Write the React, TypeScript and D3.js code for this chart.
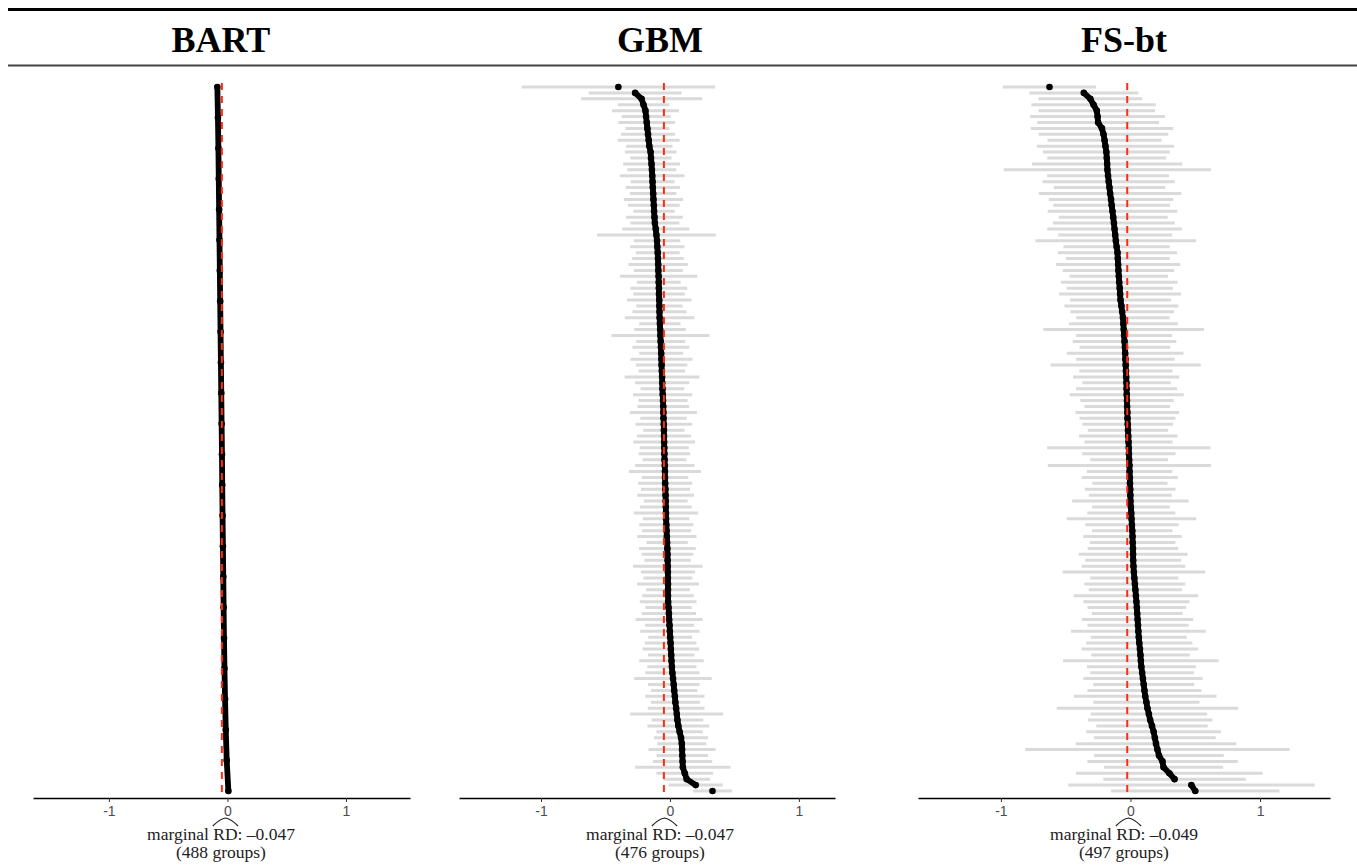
import React, { useEffect, useRef } from "react";
import * as d3 from "d3";

// ---------- data ----------
const PANEL_TITLES = ["BART", "GBM", "FS-bt"];
const GROUP_COUNTS = [488, 476, 497];
const MARGINAL_RD = [-0.047, -0.047, -0.049];
const REF_LINES = [-0.047, -0.047, -0.025];
const X_DOMAINS: [number, number][] = [
  [-1.64, 1.54],
  [-1.636, 1.28],
  [-1.64, 1.54],
];
const TICK_VALUES = [-1, 0, 1];

// sorted group-level estimates (sampled rows, top to bottom)
const BART_EST = [
  -0.085, -0.08, -0.076, -0.073, -0.07, -0.067, -0.064, -0.061, -0.058, -0.055,
  -0.052, -0.049, -0.046, -0.044, -0.041, -0.038, -0.035, -0.032, -0.029, -0.025,
  -0.02, -0.014, -0.006, 0.008,
];
const BART_HW = [
  0.012, 0.01, 0.011, 0.009, 0.012, 0.01, 0.011, 0.009, 0.01, 0.012,
  0.011, 0.009, 0.01, 0.012, 0.011, 0.01, 0.009, 0.011, 0.012, 0.01,
  0.011, 0.009, 0.012, 0.01,
];

const GBM_EST = [
  -0.4, -0.27, -0.22, -0.205, -0.19, -0.185, -0.18, -0.175, -0.17, -0.165,
  -0.16, -0.15, -0.147, -0.143, -0.14, -0.137, -0.135, -0.133, -0.13, -0.128,
  -0.125, -0.123, -0.12, -0.117, -0.11, -0.105, -0.1, -0.098, -0.095, -0.093,
  -0.091, -0.09, -0.088, -0.087, -0.086, -0.085, -0.083, -0.082, -0.081, -0.08,
  -0.078, -0.076, -0.074, -0.072, -0.07, -0.068, -0.066, -0.065, -0.063, -0.061,
  -0.06, -0.058, -0.056, -0.054, -0.052, -0.051, -0.05, -0.048, -0.047, -0.046,
  -0.045, -0.044, -0.043, -0.042, -0.04, -0.039, -0.038, -0.037, -0.035, -0.034,
  -0.033, -0.032, -0.031, -0.03, -0.028, -0.026, -0.024, -0.022, -0.02, -0.019,
  -0.018, -0.017, -0.016, -0.016, -0.015, -0.015, -0.015, -0.014, -0.011, -0.008,
  -0.006, -0.003, -0.001, 0.002, 0.005, 0.007, 0.01, 0.012, 0.015, 0.019,
  0.024, 0.029, 0.033, 0.038, 0.042, 0.048, 0.053, 0.058, 0.065, 0.075,
  0.086, 0.092, 0.094, 0.096, 0.098, 0.1, 0.115, 0.13, 0.2, 0.33,
];
const GBM_HW = [
  0.75, 0.36, 0.47, 0.2, 0.26, 0.19, 0.22, 0.17, 0.21, 0.24,
  0.18, 0.2, 0.16, 0.22, 0.19, 0.25, 0.17, 0.21, 0.18, 0.23,
  0.2, 0.16, 0.22, 0.19, 0.26, 0.46, 0.18, 0.21, 0.17, 0.2,
  0.23, 0.19, 0.3, 0.17, 0.22, 0.2, 0.25, 0.18, 0.21, 0.27,
  0.16, 0.2, 0.38, 0.19, 0.22, 0.17, 0.24, 0.2, 0.18, 0.29,
  0.21, 0.17, 0.23, 0.19, 0.2, 0.26, 0.18, 0.22, 0.16, 0.21,
  0.24, 0.19, 0.2, 0.17, 0.23, 0.28, 0.18, 0.21, 0.19, 0.22,
  0.17, 0.2, 0.25, 0.18, 0.21, 0.19, 0.23, 0.16, 0.22, 0.2,
  0.18, 0.27, 0.21, 0.19, 0.24, 0.17, 0.2, 0.22, 0.18, 0.21,
  0.26, 0.19, 0.23, 0.17, 0.2, 0.22, 0.18, 0.25, 0.19, 0.21,
  0.3, 0.2, 0.18, 0.23, 0.19, 0.22, 0.36, 0.2, 0.24, 0.18,
  0.21, 0.19, 0.26, 0.2, 0.23, 0.37, 0.22, 0.18, 0.21, 0.15,
];

const FS_EST = [
  -0.625, -0.36, -0.31, -0.285, -0.26, -0.254, -0.25, -0.22, -0.208, -0.2,
  -0.193, -0.186, -0.183, -0.18, -0.178, -0.173, -0.168, -0.162, -0.157, -0.15,
  -0.145, -0.139, -0.133, -0.128, -0.123, -0.118, -0.113, -0.107, -0.1, -0.098,
  -0.095, -0.093, -0.09, -0.087, -0.083, -0.08, -0.077, -0.07, -0.064, -0.058,
  -0.055, -0.052, -0.049, -0.046, -0.043, -0.041, -0.039, -0.037, -0.035, -0.033,
  -0.031, -0.03, -0.029, -0.027, -0.026, -0.024, -0.023, -0.021, -0.019, -0.017,
  -0.015, -0.013, -0.012, -0.01, -0.008, -0.007, -0.005, -0.004, -0.002, -0.001,
  0.0, 0.003, 0.006, 0.008, 0.011, 0.014, 0.016, 0.017, 0.019, 0.02,
  0.021, 0.023, 0.026, 0.03, 0.034, 0.038, 0.042, 0.046, 0.049, 0.052,
  0.055, 0.058, 0.061, 0.064, 0.068, 0.073, 0.077, 0.08, 0.084, 0.09,
  0.096, 0.102, 0.108, 0.114, 0.123, 0.131, 0.142, 0.152, 0.166, 0.179,
  0.188, 0.197, 0.208, 0.22, 0.247, 0.255, 0.3, 0.34, 0.47, 0.5,
];
const FS_HW = [
  0.36, 0.42, 0.4, 0.48, 0.45, 0.52, 0.47, 0.55, 0.5, 0.44,
  0.53, 0.49, 0.46, 0.58, 0.8, 0.47, 0.51, 0.43, 0.55, 0.48,
  0.45, 0.5, 0.42, 0.47, 0.52, 0.44, 0.62, 0.41, 0.46, 0.4,
  0.48, 0.43, 0.38, 0.45, 0.41, 0.47, 0.39, 0.44, 0.4, 0.36,
  0.42, 0.62, 0.37, 0.4, 0.35, 0.45, 0.38, 0.58, 0.36, 0.41,
  0.34, 0.39, 0.44, 0.36, 0.33, 0.4, 0.37, 0.35, 0.31, 0.38,
  0.34, 0.63, 0.36, 0.3, 0.63, 0.33, 0.37, 0.29, 0.35, 0.32,
  0.45, 0.3, 0.34, 0.5, 0.36, 0.31, 0.38, 0.33, 0.35, 0.42,
  0.37, 0.4, 0.55, 0.34, 0.39, 0.36, 0.48, 0.41, 0.38, 0.35,
  0.43, 0.39, 0.52, 0.37, 0.41, 0.45, 0.38, 0.6, 0.42, 0.4,
  0.46, 0.39, 0.44, 0.55, 0.41, 0.7, 0.45, 0.48, 0.43, 0.52,
  0.47, 0.62, 1.02, 0.5, 0.58, 0.46, 0.72, 0.55, 0.95, 0.65,
];

const ESTIMATES = [BART_EST, GBM_EST, FS_EST];
const HALF_WIDTHS = [BART_HW, GBM_HW, FS_HW];

// ---------- layout ----------
const W = 1357;
const H = 867;
const PANEL_X: [number, number][] = [
  [33, 410],
  [459, 835],
  [918, 1330],
];
const LABEL_CX = [221, 660, 1124];
const Y_TOP = 87;
const Y_BOT = 791;
const AXIS_Y = 798;
const CAP_FONT = 17.5;

const fmtRD = (v: number) => (v < 0 ? "\u2013" : "") + Math.abs(v).toFixed(3);

export default function App() {
  const ref = useRef<SVGSVGElement>(null);

  useEffect(() => {
    const svg = d3.select(ref.current);
    svg.selectAll("*").remove();

    svg.append("rect").attr("width", W).attr("height", H).attr("fill", "#fff");

    // header rules
    svg.append("line").attr("x1", 8).attr("x2", W).attr("y1", 9.5).attr("y2", 9.5)
      .attr("stroke", "#000").attr("stroke-width", 3);
    svg.append("line").attr("x1", 8).attr("x2", W).attr("y1", 65.5).attr("y2", 65.5)
      .attr("stroke", "#444").attr("stroke-width", 1.8);

    PANEL_TITLES.forEach((title, k) => {
      const est = ESTIMATES[k];
      const hw = HALF_WIDTHS[k];
      const x = d3.scaleLinear().domain(X_DOMAINS[k]).range(PANEL_X[k]);
      const y = d3.scalePoint<number>().domain(d3.range(est.length)).range([Y_TOP, Y_BOT]);
      const g = svg.append("g");

      // title
      svg.append("text")
        .attr("x", LABEL_CX[k]).attr("y", 52)
        .attr("text-anchor", "middle")
        .attr("font-family", "'Liberation Serif', 'Times New Roman', serif")
        .attr("font-weight", "bold").attr("font-size", 36).attr("fill", "#000")
        .text(title);

      // interval lines
      g.append("g").selectAll("line").data(est).join("line")
        .attr("x1", (d, i) => x(d - hw[i]))
        .attr("x2", (d, i) => x(d + hw[i]))
        .attr("y1", (_d, i) => y(i) as number)
        .attr("y2", (_d, i) => y(i) as number)
        .attr("stroke", "#dadada").attr("stroke-width", 3);

      // estimates: connected thick path (broken at big gaps) + dots
      const pts = est.map((d, i) => [x(d), y(i) as number] as [number, number]);
      const segs: [number, number][][] = [];
      let cur: [number, number][] = [];
      pts.forEach((p, i) => {
        if (i > 0 && Math.abs(p[0] - pts[i - 1][0]) > 10) {
          segs.push(cur);
          cur = [];
        }
        cur.push(p);
      });
      segs.push(cur);
      const line = d3.line<[number, number]>().x((p) => p[0]).y((p) => p[1]);
      segs.filter((s) => s.length > 1).forEach((s) => {
        g.append("path").attr("d", line(s) as string).attr("fill", "none")
          .attr("stroke", "#000").attr("stroke-width", 5.8)
          .attr("stroke-linecap", "round").attr("stroke-linejoin", "round");
      });
      g.append("g").selectAll("circle").data(pts).join("circle")
        .attr("cx", (p) => p[0]).attr("cy", (p) => p[1]).attr("r", 3.3).attr("fill", "#000");

      // reference dashed line
      g.append("line")
        .attr("x1", x(REF_LINES[k])).attr("x2", x(REF_LINES[k]))
        .attr("y1", Y_TOP - 4).attr("y2", AXIS_Y - 2)
        .attr("stroke", "#ff2a12").attr("stroke-width", 2)
        .attr("stroke-dasharray", "7,6");

      // axis
      const axis = d3.axisBottom(x).tickValues(TICK_VALUES).tickSizeInner(4).tickSizeOuter(0)
        .tickPadding(4)
        .tickFormat((v) => ((v as number) < 0 ? "-" + Math.abs(v as number) : String(v)));
      const ag = svg.append("g").attr("transform", `translate(0,${AXIS_Y})`).call(axis);
      ag.select(".domain").attr("stroke", "#000").attr("stroke-width", 1.6);
      ag.selectAll(".tick line").attr("stroke", "#333").attr("stroke-width", 1);
      ag.selectAll(".tick text")
        .attr("font-family", "'Liberation Sans', Arial, sans-serif")
        .attr("font-size", 14).attr("fill", "#4d4d4d");

      // caption
      const cap = svg.append("text")
        .attr("x", LABEL_CX[k]).attr("y", 840)
        .attr("text-anchor", "middle")
        .attr("font-family", "'Liberation Serif', 'Times New Roman', serif")
        .attr("font-size", CAP_FONT).attr("fill", "#222")
        .text(`marginal RD: ${fmtRD(MARGINAL_RD[k])}`);
      svg.append("text")
        .attr("x", LABEL_CX[k]).attr("y", 858)
        .attr("text-anchor", "middle")
        .attr("font-family", "'Liberation Serif', 'Times New Roman', serif")
        .attr("font-size", CAP_FONT).attr("fill", "#222")
        .text(`(${GROUP_COUNTS[k]} groups)`);

      // wide hat over "RD"
      const node = cap.node() as SVGTextElement;
      try {
        const x0 = node.getStartPositionOfChar(9).x;
        const x1 = node.getEndPositionOfChar(10).x;
        const mid = (x0 + x1) / 2;
        svg.append("path")
          .attr("d", `M${x0 - 0.5},826 Q${mid - 5},818.5 ${mid},818 Q${mid + 5},818.5 ${x1 + 0.5},826`)
          .attr("fill", "none").attr("stroke", "#222").attr("stroke-width", 1.1);
      } catch (e) {
        /* ignore */
      }
    });
  }, []);

  return (
    <svg
      ref={ref}
      width={W}
      height={H}
      style={{ position: "absolute", left: 0, top: 0, display: "block" }}
    />
  );
}
